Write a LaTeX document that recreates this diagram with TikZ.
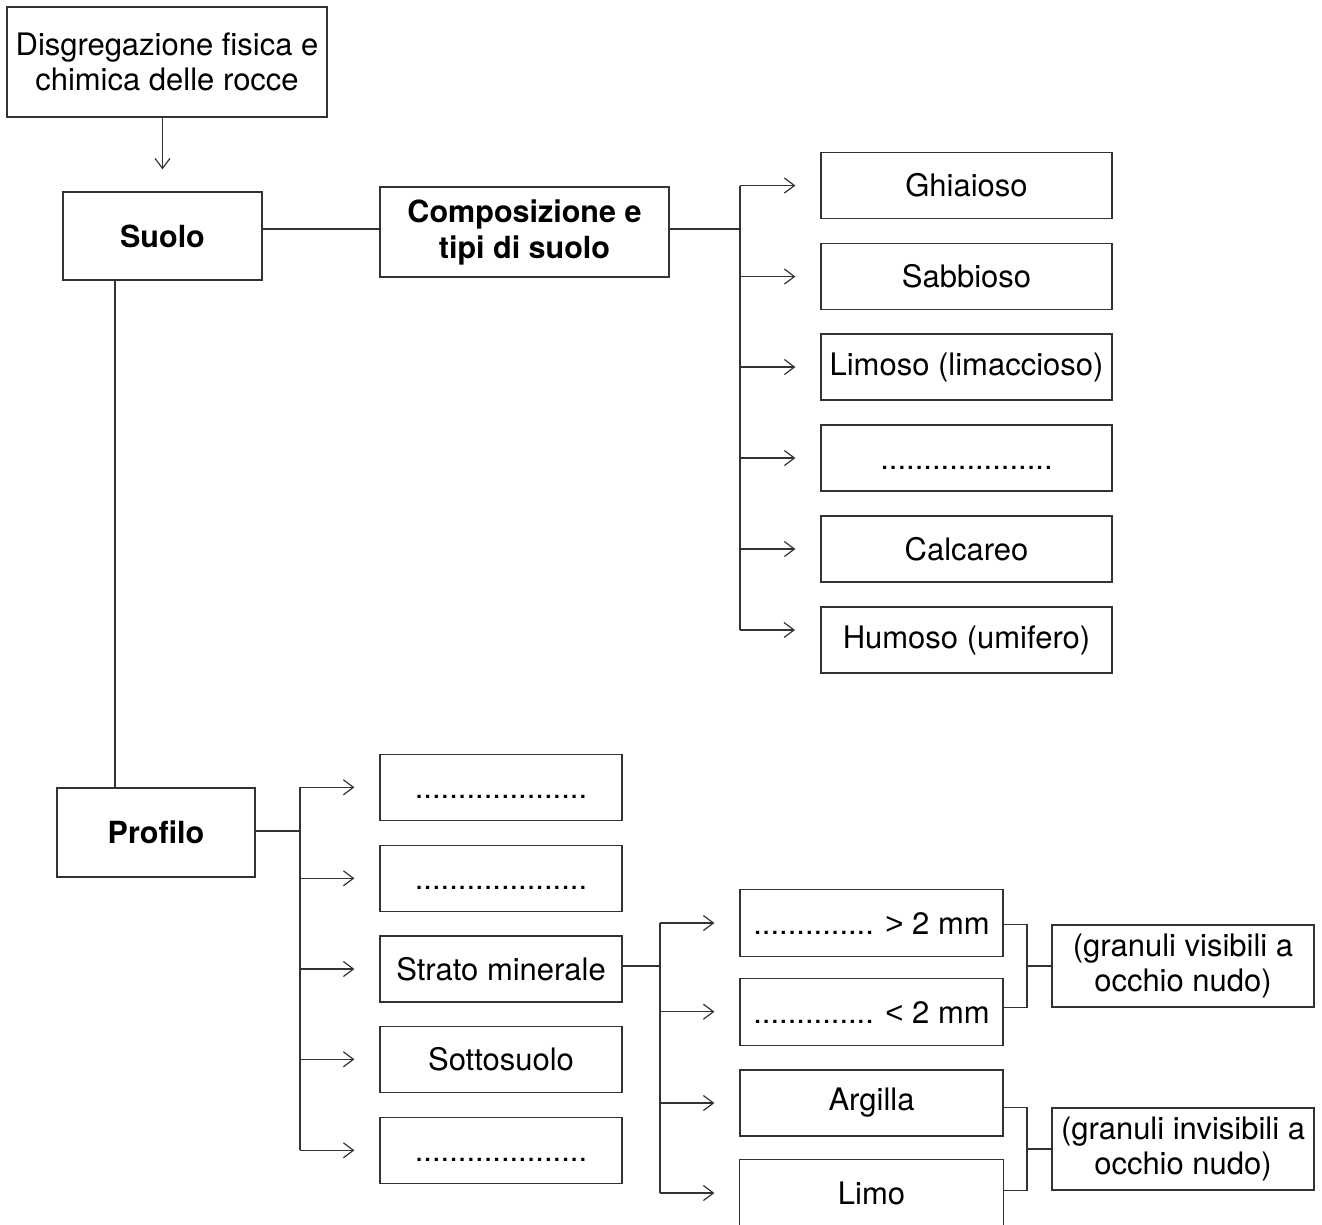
\documentclass[tikz,border=0pt]{standalone}
\usepackage{fontspec}
\setmainfont{TeX Gyre Heros}
\newfontfamily\symfont{Liberation Sans}
\usetikzlibrary{arrows.meta}
\begin{document}
\begin{tikzpicture}[x=1pt,y=-1pt,
  box/.style={draw=black!80, line width=1.2pt, rectangle, inner sep=0pt, align=center,
    font=\fontsize{31}{35}\selectfont, text=black},
  boldbox/.style={box, font=\fontsize{30.5}{36}\selectfont\bfseries},
  ln/.style={draw=black!80, line width=1.2pt},
  arr/.style={ln, -{Straight Barb[length=10pt,width=15pt,line width=1.2pt]}, shorten >=25pt}
]
\useasboundingbox (0,0) rectangle (1322,1224);
\fill[white] (0,0) rectangle (1322,1224);

% top
\node[box, minimum width=320pt, minimum height=110pt] (disg) at (167,62) {\raisebox{-1.5pt}{Disgregazione fisica e}\\\raisebox{-1.5pt}{chimica delle rocce}};
\node[boldbox, minimum width=199pt, minimum height=88pt] (suolo) at (162.5,236) {Suolo};
\node[boldbox, minimum width=289pt, minimum height=90pt] (comp) at (524.5,232) {\raisebox{-3pt}{Composizione e}\\\raisebox{-3pt}{tipi di suolo}};

% right column
\node[box, minimum width=291pt, minimum height=66pt] (b1) at (966.5,185.5) {Ghiaioso};
\node[box, minimum width=291pt, minimum height=66pt] (b2) at (966.5,276.5) {Sabbioso};
\node[box, minimum width=291pt, minimum height=66pt] (b3) at (966.5,367) {Limoso (limaccioso)};
\node[box, minimum width=291pt, minimum height=66pt] (b4) at (966.5,458) {\vphantom{H}....................};
\node[box, minimum width=291pt, minimum height=66pt] (b5) at (966.5,549) {Calcareo};
\node[box, minimum width=291pt, minimum height=66pt] (b6) at (966.5,640) {Humoso (umifero)};

% profilo
\node[boldbox, minimum width=198pt, minimum height=89pt] (prof) at (156,832.5) {Profilo};

% middle column
\node[box, minimum width=242pt, minimum height=66pt] (m1) at (501,787.3) {\vphantom{H}....................};
\node[box, minimum width=242pt, minimum height=66pt] (m2) at (501,878.3) {\vphantom{H}....................};
\node[box, minimum width=242pt, minimum height=66pt] (m3) at (501,969) {Strato minerale};
\node[box, minimum width=242pt, minimum height=66pt] (m4) at (501,1059.3) {Sottosuolo};
\node[box, minimum width=242pt, minimum height=66pt] (m5) at (501,1150.3) {\vphantom{H}....................};

% small column
\node[box, minimum width=263pt, minimum height=67pt] (g1) at (871.5,923) {\vphantom{H}.............. {\symfont >} 2 mm};
\node[box, minimum width=263pt, minimum height=67pt] (g2) at (871.5,1011.7) {\vphantom{H}.............. {\symfont <} 2 mm};
\node[box, minimum width=263pt, minimum height=66pt] (g3) at (871.5,1103) {Argilla};
\node[box, draw=none, minimum width=263pt, minimum height=66pt] (g4) at (871.5,1193) {Limo};
\draw[ln] (g4.north west) rectangle ([yshift=-20pt]g4.south east);

% granuli boxes
\node[box, minimum width=262pt, minimum height=82pt] (v1) at (1183,966) {(granuli visibili a\\occhio nudo)};
\node[box, minimum width=262pt, minimum height=82pt] (v2) at (1183,1149) {(granuli invisibili a\\occhio nudo)};

% coordinates
\coordinate (s1) at (0,229);
\coordinate (tA) at (740,229);
\coordinate (h6) at (820,630);
\coordinate (vS) at (115,0);
\coordinate (tB) at (300,831);
\coordinate (tC) at (660,966);
\coordinate (j1) at (1027,966);
\coordinate (j2) at (1027,1149);

% connectors top
\draw[arr, shorten >=22pt] (disg.south -| suolo.north) -- (suolo.north);
\draw[ln] (suolo.east |- s1) -- (comp.west |- s1);
\draw[ln] (comp.east |- s1) -- (tA);
\draw[ln] (tA |- b1.west) -- (tA |- h6);
\foreach \b in {b1,b2,b3,b4,b5} \draw[arr] (tA |- \b.west) -- (\b.west);
\draw[arr] (tA |- h6) -- (h6);

% suolo to profilo
\draw[ln] (suolo.south -| vS) -- (prof.north -| vS);

% profilo branches
\draw[ln] (prof.east |- tB) -- (tB);
\draw[ln] (tB |- m1.west) -- (tB |- m5.west);
\foreach \m in {m1,m2,m3,m4,m5} \draw[arr] (tB |- \m.west) -- (\m.west);

% strato branches
\draw[ln] (m3.east |- tC) -- (tC);
\draw[ln] (tC |- g1.west) -- (tC |- g4.west);
\foreach \g in {g1,g2,g3,g4} \draw[arr] (tC |- \g.west) -- (\g.west);

% to granuli boxes
\draw[ln] (g1.east |- v1.north) -| (j1);
\draw[ln] (g2.east |- v1.south) -| (j1);
\draw[ln] (j1) -- (v1.west);
\draw[ln] (g3.east |- v2.north) -| (j2);
\draw[ln] (g4.east |- v2.south) -| (j2);
\draw[ln] (j2) -- (v2.west);
\end{tikzpicture}
\end{document}
